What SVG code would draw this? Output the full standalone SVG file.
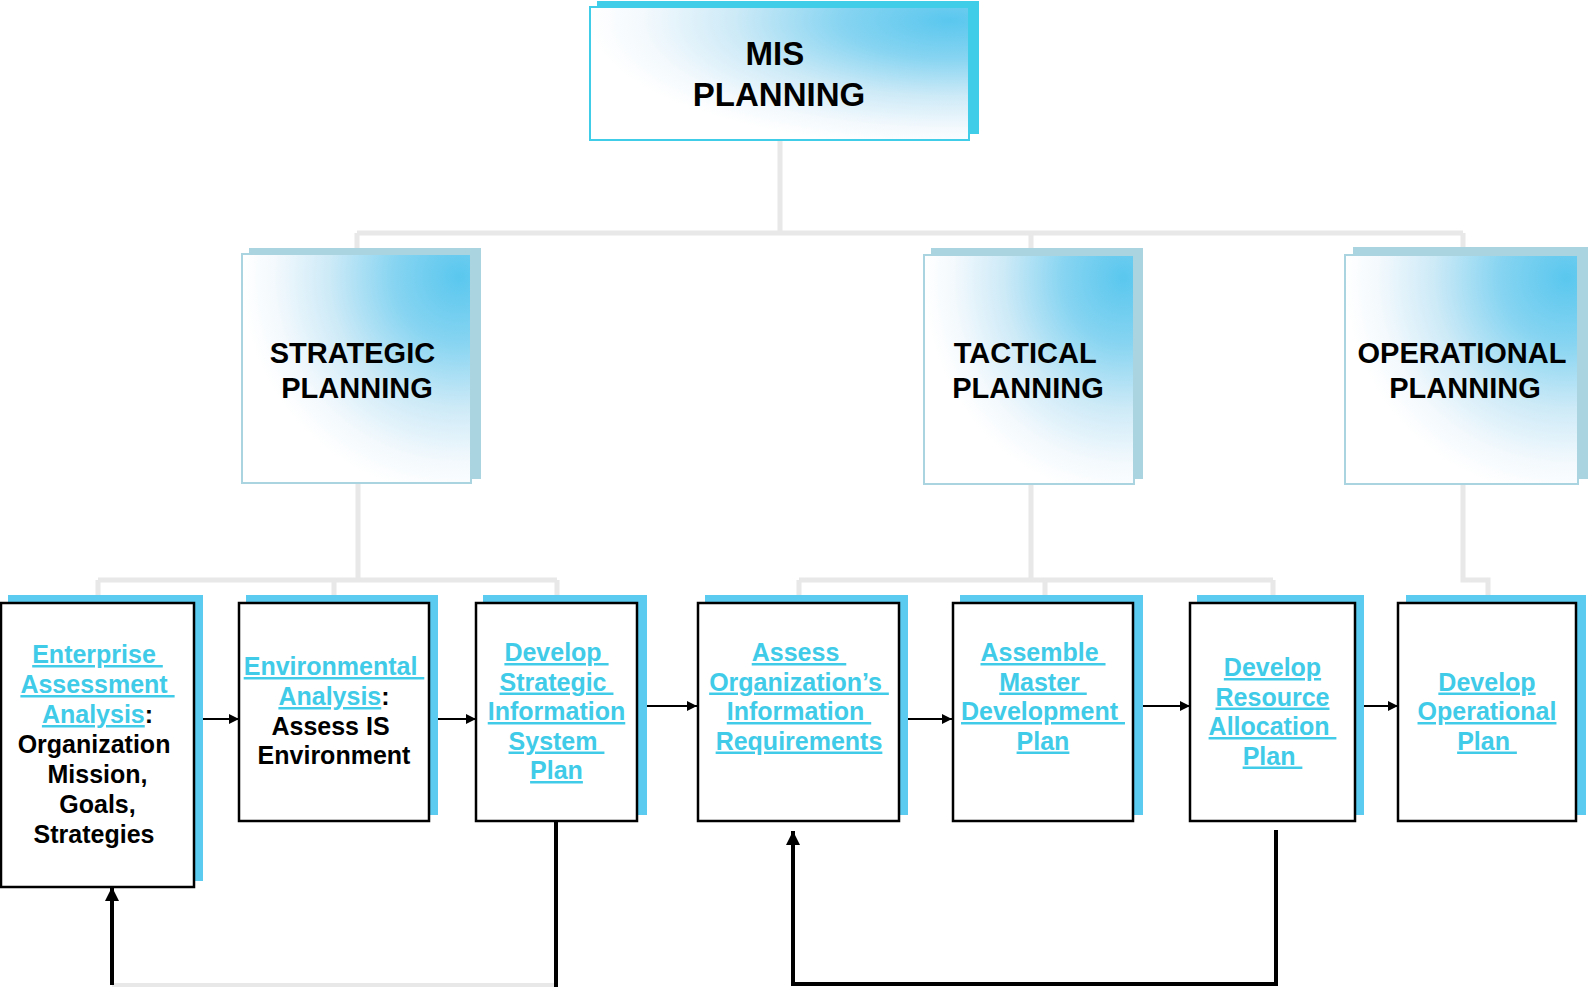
<svg xmlns="http://www.w3.org/2000/svg" width="1594" height="988" viewBox="0 0 1594 988">
<defs>
<radialGradient id="gfill" cx="0.95" cy="0.1" r="0.95" fx="0.95" fy="0.1">
<stop offset="0" stop-color="#5ac7ee"/>
<stop offset="0.3" stop-color="#86d4f1"/>
<stop offset="0.6" stop-color="#cdeaf7"/>
<stop offset="0.85" stop-color="#f3f9fd"/>
<stop offset="1" stop-color="#ffffff"/>
</radialGradient>
<marker id="ah" viewBox="0 0 10 10" refX="10" refY="5" markerWidth="10" markerHeight="10" markerUnits="userSpaceOnUse" orient="auto">
<path d="M0,0 L10,5 L0,10 Z" fill="#000"/>
</marker>
<marker id="ahBig" viewBox="0 0 14 14" refX="14" refY="7" markerWidth="14" markerHeight="14" markerUnits="userSpaceOnUse" orient="auto">
<path d="M0,0 L14,7 L0,14 Z" fill="#000"/>
</marker>
</defs>
<style>
text { font-family: "Liberation Sans", Arial, sans-serif; font-weight: bold; text-anchor: middle; white-space: pre; }
.hd { font-size: 29px; fill: #000; }
.top { font-size: 33px; fill: #000; }
.bt { font-size: 25px; fill: #000; }
.lk { fill: #40cbe8; text-decoration: underline; }
.shTop { fill: #40cde8; }
.shMid { fill: #a9d4e0; }
.shLow { fill: #5bcbef; }
.boxTop { fill: url(#gfill); stroke: #40cde8; stroke-width: 2; }
.boxMid { fill: url(#gfill); stroke: #a9d4e0; stroke-width: 2; }
.boxLow { fill: #fff; stroke: #000; stroke-width: 2.5; }
.gc { fill: none; stroke: #e8e8e8; stroke-width: 5; }
.ar { fill: none; stroke: #000; stroke-width: 2; }
.fb { fill: none; stroke: #000; stroke-width: 4; }
</style>

<g id="connectors">
<path class="gc" d="M780,140 V233 M357,233 H1463 M357,233 V248 M1031,233 V248 M1463,233 V248"/>
<path class="gc" d="M358,484 V580 M98,580 H557 M98,580 V595 M334,580 V595 M557,580 V595"/>
<path class="gc" d="M1031,484 V580 M799,580 H1273 M799,580 V595 M1045,580 V595 M1273,580 V595"/>
<path class="gc" d="M1463,484 V580 H1488 V595"/>
<line class="ar" x1="200" y1="719" x2="239" y2="719" marker-end="url(#ah)"/>
<line class="ar" x1="438" y1="719" x2="476" y2="719" marker-end="url(#ah)"/>
<line class="ar" x1="639" y1="706" x2="697" y2="706" marker-end="url(#ah)"/>
<line class="ar" x1="908" y1="719" x2="952" y2="719" marker-end="url(#ah)"/>
<line class="ar" x1="1143" y1="706" x2="1190" y2="706" marker-end="url(#ah)"/>
<line class="ar" x1="1364" y1="706" x2="1398" y2="706" marker-end="url(#ah)"/>
<line x1="112" y1="985" x2="556" y2="985" stroke="#e8e8e8" stroke-width="4"/>
<line class="fb" x1="556" y1="815" x2="556" y2="987"/>
<line class="fb" x1="112" y1="985" x2="112" y2="887" marker-end="url(#ahBig)"/>
<path class="fb" d="M1276,830 V984 H793" stroke-width="5"/>
<line class="fb" x1="793" y1="986" x2="793" y2="831" marker-end="url(#ahBig)"/>
</g>

<g id="mis-planning">
<rect class="shTop" x="597" y="1" width="382" height="133"/>
<rect class="boxTop" x="590" y="7" width="379" height="133"/>
<text class="top" x="779.5" y="65">MIS </text>
<text class="top" x="779" y="106">PLANNING</text>
</g>

<g id="strategic-planning">
<rect class="shMid" x="249" y="248" width="232" height="231"/>
<rect class="boxMid" x="242" y="254" width="229" height="229"/>
<text class="hd" x="356.5" y="363">STRATEGIC </text>
<text class="hd" x="357" y="397.5">PLANNING</text>
</g>

<g id="tactical-planning">
<rect class="shMid" x="931" y="248" width="212" height="231"/>
<rect class="boxMid" x="924" y="255" width="210" height="229"/>
<text class="hd" x="1029" y="363">TACTICAL </text>
<text class="hd" x="1028" y="397.5">PLANNING</text>
</g>

<g id="operational-planning">
<rect class="shMid" x="1353" y="247" width="235" height="232"/>
<rect class="boxMid" x="1345" y="255" width="233" height="229"/>
<text class="hd" x="1462" y="363">OPERATIONAL</text>
<text class="hd" x="1465" y="397.5">PLANNING</text>
</g>

<g id="enterprise-assessment">
<rect class="shLow" x="8" y="595" width="195" height="286"/>
<rect class="boxLow" x="1" y="603" width="193" height="284"/>
<text class="bt" x="97.5" y="663"><tspan class="lk">Enterprise </tspan></text>
<text class="bt" x="97.5" y="693"><tspan class="lk">Assessment </tspan></text>
<text class="bt" x="97.5" y="723"><tspan class="lk">Analysis</tspan>:</text>
<text class="bt" x="97.5" y="753">Organization </text>
<text class="bt" x="97.5" y="783">Mission,</text>
<text class="bt" x="97.5" y="813">Goals,</text>
<text class="bt" x="97.5" y="843">Strategies </text>
</g>

<g id="environmental-analysis">
<rect class="shLow" x="246" y="595" width="192" height="220"/>
<rect class="boxLow" x="239" y="603" width="190" height="218"/>
<text class="bt" x="334" y="675"><tspan class="lk">Environmental </tspan></text>
<text class="bt" x="334" y="705"><tspan class="lk">Analysis</tspan>:</text>
<text class="bt" x="334" y="734.5">Assess IS </text>
<text class="bt" x="334" y="764">Environment</text>
</g>

<g id="develop-sisp">
<rect class="shLow" x="483" y="595" width="164" height="220"/>
<rect class="boxLow" x="476" y="603" width="161" height="218"/>
<text class="bt" x="556.5" y="661"><tspan class="lk">Develop </tspan></text>
<text class="bt" x="556.5" y="690.5"><tspan class="lk">Strategic </tspan></text>
<text class="bt" x="556.5" y="720"><tspan class="lk">Information</tspan></text>
<text class="bt" x="556.5" y="749.5"><tspan class="lk">System </tspan></text>
<text class="bt" x="556.5" y="779"><tspan class="lk">Plan</tspan></text>
</g>

<g id="assess-requirements">
<rect class="shLow" x="705" y="595" width="203" height="220"/>
<rect class="boxLow" x="698" y="603" width="201" height="218"/>
<text class="bt" x="799" y="661"><tspan class="lk">Assess </tspan></text>
<text class="bt" x="799" y="690.5"><tspan class="lk">Organization’s </tspan></text>
<text class="bt" x="799" y="720"><tspan class="lk">Information </tspan></text>
<text class="bt" x="799" y="749.5"><tspan class="lk">Requirements</tspan></text>
</g>

<g id="assemble-master-plan">
<rect class="shLow" x="960" y="595" width="183" height="220"/>
<rect class="boxLow" x="953" y="603" width="180" height="218"/>
<text class="bt" x="1043" y="661"><tspan class="lk">Assemble </tspan></text>
<text class="bt" x="1043" y="690.5"><tspan class="lk">Master </tspan></text>
<text class="bt" x="1043" y="720"><tspan class="lk">Development </tspan></text>
<text class="bt" x="1043" y="749.5"><tspan class="lk">Plan</tspan></text>
</g>

<g id="resource-allocation">
<rect class="shLow" x="1197" y="595" width="167" height="220"/>
<rect class="boxLow" x="1190" y="603" width="165" height="218"/>
<text class="bt" x="1272.5" y="676"><tspan class="lk">Develop</tspan></text>
<text class="bt" x="1272.5" y="705.5"><tspan class="lk">Resource</tspan></text>
<text class="bt" x="1272.5" y="735"><tspan class="lk">Allocation </tspan></text>
<text class="bt" x="1272.5" y="764.5"><tspan class="lk">Plan </tspan></text>
</g>

<g id="operational-plan">
<rect class="shLow" x="1406" y="595" width="180" height="220"/>
<rect class="boxLow" x="1398" y="603" width="178" height="218"/>
<text class="bt" x="1487" y="690.5"><tspan class="lk">Develop</tspan></text>
<text class="bt" x="1487" y="720"><tspan class="lk">Operational</tspan></text>
<text class="bt" x="1487" y="749.5"><tspan class="lk">Plan </tspan></text>
</g>
</svg>
